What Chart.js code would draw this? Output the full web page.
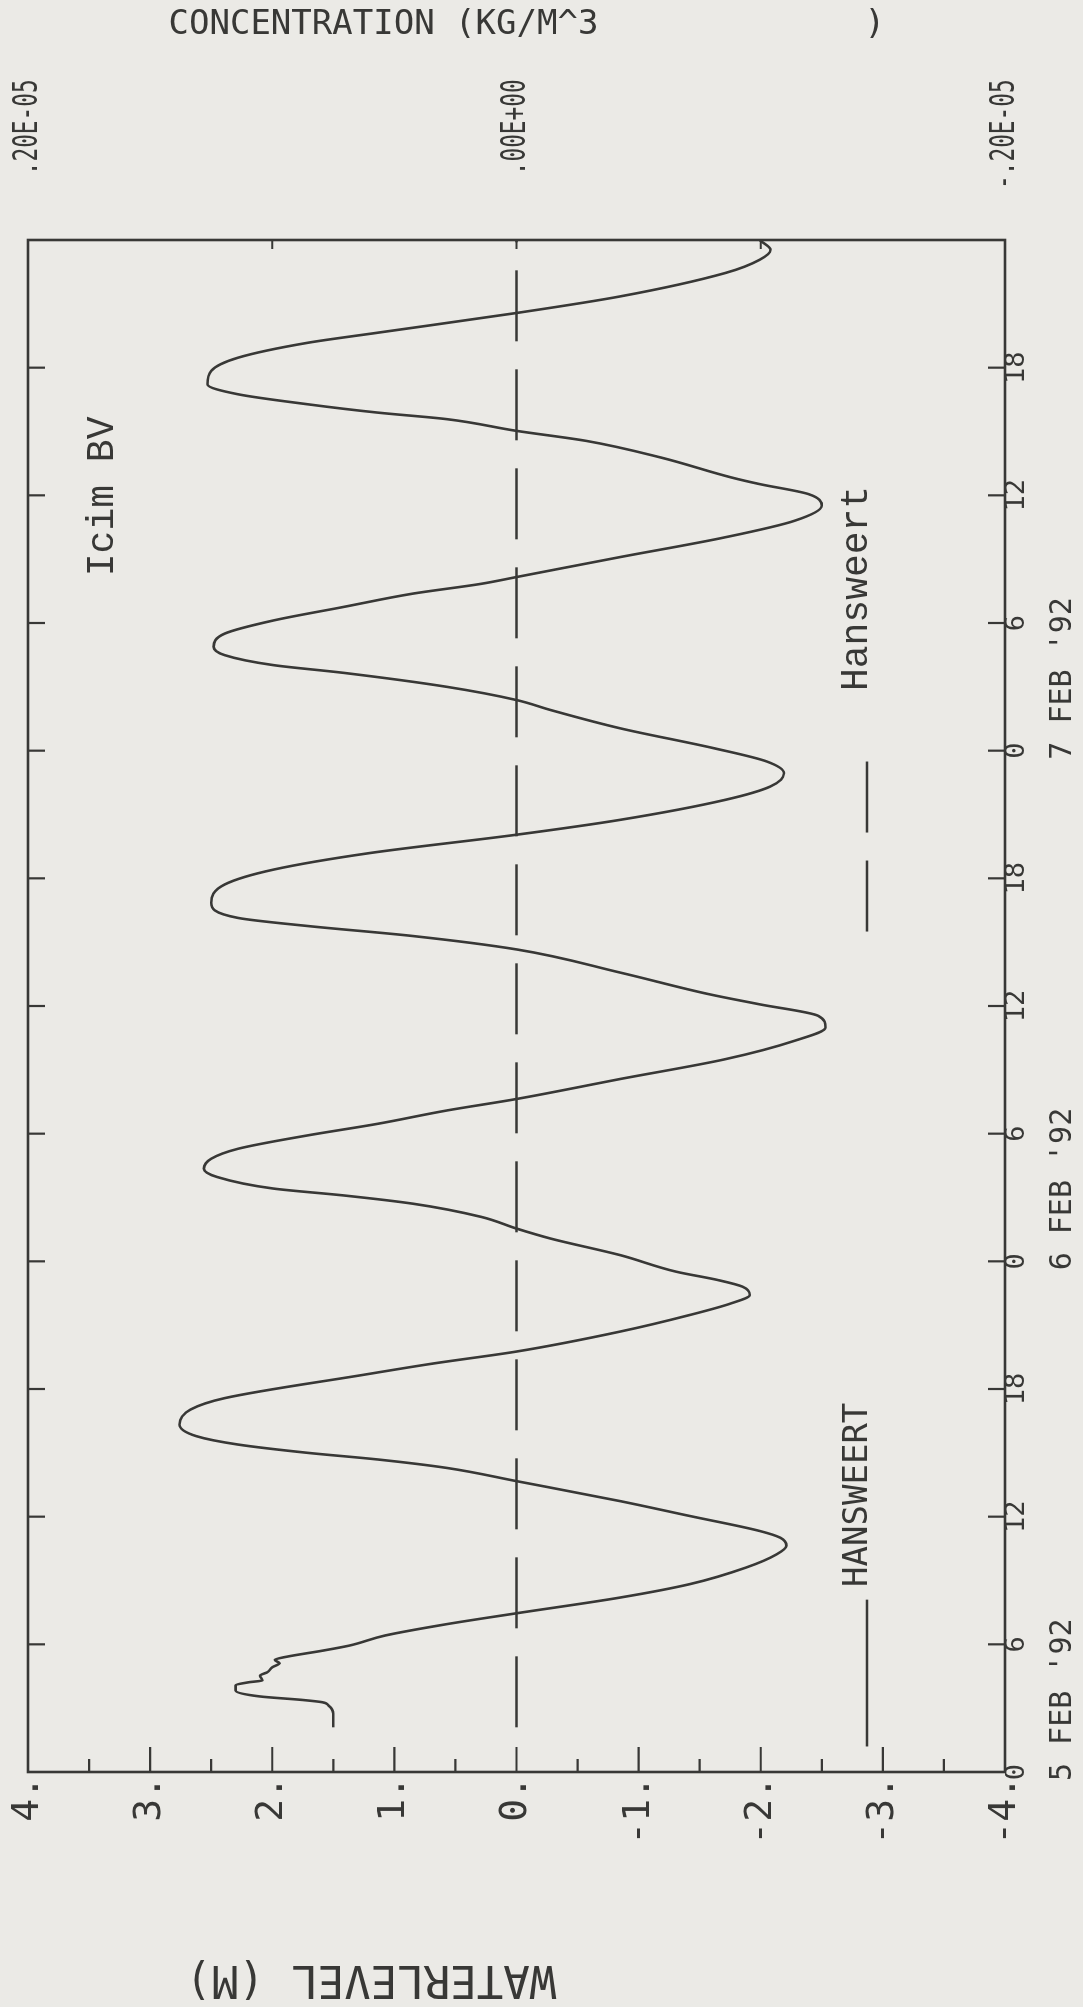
<!DOCTYPE html>
<html>
<head>
<meta charset="utf-8">
<title>Waterlevel Hansweert</title>
<script src="https://cdn.jsdelivr.net/npm/chart.js@4.4.1/dist/chart.umd.min.js"></script>
<style>
    html, body { margin: 0; padding: 0; background: #ebeae6; overflow: hidden; }
    body { width: 1083px; height: 2007px; position: relative; }
    /* the plot is drawn landscape and turned a quarter turn, like the printed sheet */
    #sheet {
        position: absolute; left: 0; top: 0;
        width: 2007px; height: 1083px;
        transform-origin: 0 0;
        transform: translate(0, 2007px) rotate(-90deg);
    }
</style>
</head>
<body>
<div id="sheet"><canvas id="plot" width="2007" height="1083"></canvas></div>
<script>
// ==========================================
// Data (hours after 5 FEB '92 00:00)
// ==========================================

const levelTimes = [
    2.1, 2.74, 3.13, 3.28, 3.39, 3.55, 3.83, 4.06, 4.22, 4.3, 4.53, 4.69, 4.92, 5.11, 5.27, 5.42,
    5.7, 5.94, 6.41, 6.95, 7.46, 8.2, 8.83, 9.61, 10.23, 10.63, 11.01, 11.33, 12.03, 12.73, 13.67,
    14.29, 14.69, 15.0, 15.39, 15.78, 16.33, 17.03, 17.57, 18.67, 19.2, 19.76, 20.7, 21.48, 22.03,
    22.42, 22.81, 23.12, 23.51, 24.29, 25.07, 25.54, 26.09, 26.71, 27.1, 27.42, 27.96, 28.35, 28.82,
    29.29, 29.92, 30.46, 31.09, 31.63, 32.57, 33.5, 34.37, 34.99, 35.54, 36.08, 36.55, 37.57, 38.66,
    39.29, 39.76, 40.14, 40.85, 41.71, 42.41, 43.19, 44.05, 44.75, 45.69, 46.32, 46.94, 47.49, 48.11,
    49.05, 49.91, 50.38, 51.0, 51.66, 52.02, 52.49, 52.88, 53.5, 54.12, 54.75, 55.38, 55.84, 56.16,
    57.1, 58.03, 58.81, 59.51, 60.06, 60.53, 60.84, 61.78, 62.56, 63.03, 63.58, 63.89, 64.28, 64.75,
    65.22, 65.85, 66.47, 67.17, 67.64, 68.57, 69.35, 70.45, 71.07, 71.54, 72.0
];
const levelValues = [
    1.50, 1.50, 1.54, 1.59, 1.76, 2.10, 2.30, 2.30, 2.19, 2.08, 2.10, 2.04, 2.00, 1.94, 1.98, 1.88,
    1.59, 1.37, 1.08, 0.57, 0.00, -0.85, -1.42, -1.88, -2.13, -2.21, -2.16, -1.99, -1.42, -0.85, 0.00,
    0.57, 1.14, 1.71, 2.28, 2.62, 2.76, 2.67, 2.39, 1.25, 0.68, 0.00, -0.85, -1.42, -1.76,
    -1.91, -1.85, -1.65, -1.31, -0.85, -0.28, 0.00, 0.29, 0.85, 1.42, 1.99, 2.45, 2.56, 2.50,
    2.28, 1.71, 1.14, 0.57, 0.00, -0.85, -1.71, -2.28, -2.53, -2.47, -1.99, -1.58, -0.85, 0.00,
    0.85, 1.71, 2.28, 2.50, 2.39, 1.99, 1.20, 0.00, -0.85, -1.71, -2.08, -2.19, -2.05, -1.62,
    -0.85, -0.28, 0.00, 0.57, 1.42, 1.99, 2.39, 2.48, 2.39, 1.99, 1.42, 0.85, 0.29, 0.00,
    -0.85, -1.71, -2.28, -2.50, -2.39, -1.99, -1.76, -1.18, -0.57, 0.00, 0.57, 1.14, 1.71, 2.28,
    2.53, 2.50, 2.28, 1.71, 1.14, 0.00, -0.85, -1.71, -1.99, -2.08, -1.99
];

// concentration stays at zero the whole run
const concTimes = [2.1, 72.0];
const concValues = [0, 0];

// tick labels
const hourTickLabels = ['0', '6', '12', '18', '0', '6', '12', '18', '0', '6', '12', '18', ''];
const dateStarts = [0, 24, 48];
const dateLabels = ["5 FEB '92", "6 FEB '92", "7 FEB '92"];
const levelTickLabels = ['-4.', '-3.', '-2.', '-1.', '0.', '1.', '2.', '3.', '4.'];
const concTickLabels = ['-.20E-05', '', ' .00E+00', '', ' .20E-05'];

// legend / annotations
const seriesNames = ['HANSWEERT', 'Hansweert'];
const stampText = 'Icim BV';

// ==========================================
// Style
// ==========================================

const INK = '#383836';
const PAPER = '#ebeae6';
const MONO = "'DejaVu Sans Mono', monospace";
const TYPE = "'Liberation Mono', 'Courier New', monospace";

Chart.defaults.color = INK;
Chart.defaults.font.family = MONO;

// keep the frame where the sheet has it, whatever the label sizes
function fixBox(size) {
    return s => {
        if (s.isHorizontal()) s.height = size; else s.width = size;
        s.paddingTop = s.paddingBottom = s.paddingLeft = s.paddingRight = 0;
    };
}

// ==========================================
// Plotter decorations: frame, inward ticks, legend, dates
// ==========================================

const plotterPlugin = {
    id: 'plotter',
    beforeDraw(chart) {
        const ctx = chart.ctx;
        ctx.save();
        ctx.fillStyle = PAPER;
        ctx.fillRect(0, 0, chart.width, chart.height);
        ctx.restore();
    },
    afterDraw(chart) {
        const { ctx, chartArea: a } = chart;
        const { x, y, y2 } = chart.scales;

        ctx.save();
        ctx.strokeStyle = INK;
        ctx.lineCap = 'butt';

        // frame
        ctx.lineWidth = 2.6;
        ctx.strokeRect(a.left, a.top, a.right - a.left, a.bottom - a.top);

        ctx.lineWidth = 2.2;
        ctx.beginPath();
        // waterlevel: every half metre, long on whole metres
        for (let v = y.min + 0.5; v < y.max; v += 0.5) {
            const py = y.getPixelForValue(v);
            const len = Number.isInteger(v) ? 25 : 13;
            ctx.moveTo(a.left, py);
            ctx.lineTo(a.left + len, py);
        }
        // time: both edges
        x.ticks.forEach(t => {
            if (t.value <= x.min || t.value >= x.max) return;
            const px = x.getPixelForValue(t.value);
            ctx.moveTo(px, a.bottom);
            ctx.lineTo(px, a.bottom - 17);
            ctx.moveTo(px, a.top);
            ctx.lineTo(px, a.top + 17);
        });
        // concentration
        y2.ticks.forEach(t => {
            if (t.value <= y2.min || t.value >= y2.max) return;
            const py = y2.getPixelForValue(t.value);
            ctx.moveTo(a.right, py);
            ctx.lineTo(a.right - 9, py);
        });
        ctx.stroke();

        ctx.fillStyle = INK;

        // concentration labels use the plotter's narrow digits
        ctx.font = `34px ${MONO}`;
        ctx.textAlign = 'left';
        ctx.textBaseline = 'middle';
        y2.ticks.forEach(t => {
            const label = concTickLabels[Math.round(t.value / 1e-6) + 2];
            if (!label) return;
            ctx.save();
            ctx.translate(a.right + 51, y2.getPixelForValue(t.value));
            ctx.scale(0.67, 1);
            ctx.fillText(label, 0, 0);
            ctx.restore();
        });

        // date line under the hour labels
        ctx.font = `30px ${MONO}`;
        dateStarts.forEach((h, i) => {
            ctx.fillText(dateLabels[i], x.getPixelForValue(h) - 9, a.bottom + 58);
        });

        // legend row
        const legendY = y.getPixelForValue(-2.87);
        ctx.lineWidth = 2.6;
        ctx.beginPath();
        ctx.moveTo(x.getPixelForValue(1.2), legendY);
        ctx.lineTo(x.getPixelForValue(8.1), legendY);
        ctx.stroke();

        ctx.setLineDash([71, 28]);
        ctx.beginPath();
        ctx.moveTo(x.getPixelForValue(39.5), legendY);
        ctx.lineTo(x.getPixelForValue(47.5), legendY);
        ctx.stroke();
        ctx.setLineDash([]);

        ctx.textBaseline = 'alphabetic';
        ctx.font = `34px ${MONO}`;
        ctx.fillText(seriesNames[0], x.getPixelForValue(8.7), legendY);

        ctx.font = `38px ${TYPE}`;
        ctx.fillText(seriesNames[1], x.getPixelForValue(50.8), legendY);

        ctx.fillText(stampText, x.getPixelForValue(56.2), y.getPixelForValue(3.30));

        ctx.restore();
    }
};

// ==========================================
// Chart
// ==========================================

new Chart(document.getElementById('plot'), {
    type: 'line',
    data: {
        datasets: [
            {
                label: seriesNames[0],
                data: levelTimes.map((t, i) => ({ x: t, y: levelValues[i] })),
                yAxisID: 'y',
                borderColor: INK,
                borderWidth: 2.6,
                pointRadius: 0,
                cubicInterpolationMode: 'monotone',
                fill: false
            },
            {
                label: seriesNames[1],
                data: concTimes.map((t, i) => ({ x: t, y: concValues[i] })),
                yAxisID: 'y2',
                borderColor: INK,
                borderWidth: 2.6,
                borderDash: [71, 28],
                pointRadius: 0,
                fill: false
            }
        ]
    },
    options: {
        responsive: false,
        devicePixelRatio: 1,
        animation: false,
        layout: { padding: { top: 28, left: 0, right: 0, bottom: 0 } },
        plugins: {
            legend: { display: false },
            tooltip: { enabled: false }
        },
        scales: {
            x: {
                type: 'linear',
                position: 'bottom',
                min: 0,
                max: 72,
                grid: { display: false, drawTicks: false },
                border: { display: false },
                ticks: {
                    stepSize: 6,
                    autoSkip: false,
                    maxRotation: 0,
                    padding: -4,
                    font: { family: MONO, size: 27 },
                    callback: (v, i) => hourTickLabels[i]
                },
                afterFit: fixBox(78)
            },
            y: {
                position: 'left',
                min: -4,
                max: 4,
                grid: { display: false, drawTicks: false },
                border: { display: false },
                ticks: {
                    stepSize: 1,
                    padding: 4,
                    font: { family: MONO, size: 38 },
                    callback: (v, i) => levelTickLabels[i]
                },
                title: {
                    display: true,
                    // leading blanks push the label toward the top of the axis, as on the sheet
                    text: '           WATERLEVEL (M)',
                    font: { family: MONO, size: 44 },
                    padding: { top: 3, bottom: 0 }
                },
                afterFit: fixBox(235)
            },
            y2: {
                position: 'right',
                min: -2e-6,
                max: 2e-6,
                grid: { display: false, drawTicks: false },
                border: { display: false },
                ticks: {
                    display: false,
                    stepSize: 1e-6
                },
                title: {
                    display: true,
                    text: ' CONCENTRATION (KG/M^3             )',
                    font: { family: MONO, size: 34 },
                    padding: { top: 5, bottom: 0 }
                },
                afterFit: fixBox(240)
            }
        }
    },
    plugins: [plotterPlugin]
});
</script>
</body>
</html>
